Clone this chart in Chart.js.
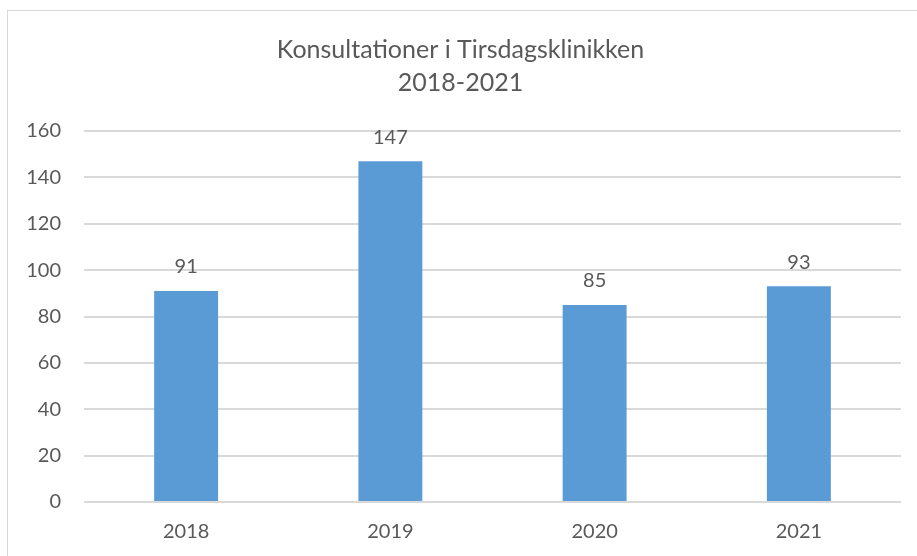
<!DOCTYPE html>
<html>
<head>
<meta charset="utf-8">
<script src="https://cdn.jsdelivr.net/npm/chart.js@4"></script>
<style>
  html, body { margin: 0; padding: 0; background: #fff; overflow: hidden; }
  #wrap { position: relative; width: 917px; height: 556px; }
</style>
</head>
<body>
<div id="wrap"><canvas id="chart" width="917" height="556"></canvas></div>
<script>
const years = ["2018", "2019", "2020", "2021"];
const consultations = [91, 147, 85, 93];
const titleLines = ["Konsultationer i Tirsdagsklinikken", "2018-2021"];

const textColor = "#595959";
const fontFamily = "Lato, 'Open Sans', sans-serif";

// frame around the chart like the office chart box
const frame = {
    id: "frame",
    beforeDraw(chart) {
        const ctx = chart.ctx;
        ctx.save();
        ctx.strokeStyle = "#d9d9d9";
        ctx.lineWidth = 1;
        ctx.strokeRect(7.5, 10.5, chart.width + 10, chart.height + 10);
        ctx.restore();
    }
};

// value labels above each bar
const barLabels = {
    id: "barLabels",
    afterDatasetsDraw(chart) {
        const ctx = chart.ctx;
        const meta = chart.getDatasetMeta(0);
        ctx.save();
        ctx.fillStyle = textColor;
        ctx.font = "20px " + fontFamily;
        ctx.textAlign = "center";
        ctx.textBaseline = "middle";
        meta.data.forEach((bar, i) => {
            ctx.fillText(String(chart.data.datasets[0].data[i]), bar.x, bar.y - 24);
        });
        ctx.restore();
    }
};

new Chart(document.getElementById("chart"), {
    type: "bar",
    data: {
        labels: years,
        datasets: [{
            label: "Konsultationer",
            data: consultations,
            backgroundColor: "#5b9bd5",
            categoryPercentage: 1,
            barPercentage: 0.313
        }]
    },
    options: {
        responsive: false,
        animation: false,
        layout: { padding: { left: 20, right: 16, top: 10, bottom: 0 } },
        plugins: {
            legend: { display: false },
            tooltip: { enabled: false },
            title: {
                display: true,
                text: titleLines,
                color: textColor,
                font: { family: fontFamily, size: 25, weight: "normal", lineHeight: 1.3 },
                padding: { top: 24, bottom: 32 }
            }
        },
        scales: {
            x: {
                afterFit(scale) { scale.height = 54; },
                grid: { display: false, drawTicks: false },
                border: { display: false },
                ticks: { color: textColor, font: { family: fontFamily, size: 20 }, padding: 18 }
            },
            y: {
                min: 0,
                max: 160,
                afterFit(scale) { scale.width = 64; },
                ticks: { stepSize: 20, color: textColor, font: { family: fontFamily, size: 20 }, padding: 23 },
                grid: { color: "#d9d9d9", lineWidth: 2, drawTicks: false },
                border: { display: false }
            }
        }
    },
    plugins: [frame, barLabels]
});
</script>
</body>
</html>
